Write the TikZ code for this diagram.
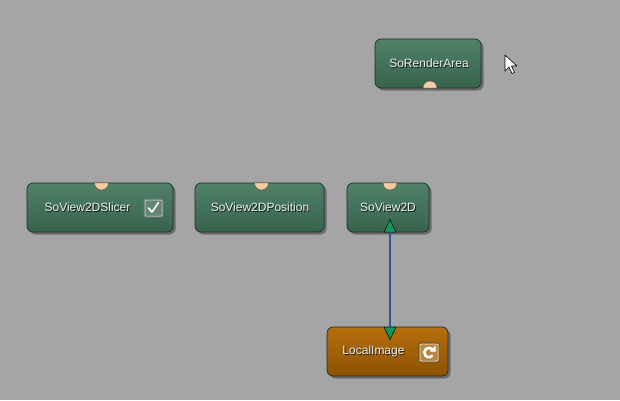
\documentclass[tikz,border=0pt]{standalone}
\usepackage{fontspec}
\setmainfont{Liberation Sans}
\usetikzlibrary{shadows}
\definecolor{bg}{HTML}{A5A5A5}
\definecolor{gtop}{HTML}{4E8268}
\definecolor{gbot}{HTML}{38634D}
\definecolor{otop}{HTML}{B56E0C}
\definecolor{obot}{HTML}{8C5302}
\definecolor{modborder}{HTML}{1F2B25}
\definecolor{portc}{HTML}{F4CDA3}
\definecolor{trig}{HTML}{0E9A5E}
\definecolor{wire}{HTML}{2A5B8E}
\definecolor{txt}{HTML}{EEF3EE}
\definecolor{cbfill}{HTML}{648674}
\definecolor{rffill}{HTML}{B98544}
\tikzset{
  module/.style={draw=modborder, line width=0.7pt, rounded corners=6pt,
    minimum height=49pt, inner sep=0pt,
    drop shadow={shadow xshift=2.5pt, shadow yshift=-2.5pt, opacity=0.35, fill=black}},
  greenmod/.style={module, top color=gtop, bottom color=gbot},
  orangemod/.style={module, top color=otop, bottom color=obot},
  lbl/.style={inner sep=0pt, font=\fontsize{12}{14}\selectfont, text=txt},
  lblshadow/.style={inner sep=0pt, font=\fontsize{12}{14}\selectfont, text=black, opacity=0.8},
  port/.style={fill=portc, draw=black!70, line width=0.4pt},
  trigger/.style={fill=trig, draw=black, line width=0.5pt},
  iconbox/.style={line width=0.7pt, rounded corners=1pt, inner sep=0pt},
}
\newcommand\modlabel[3]{%
  \node[lblshadow] at ([xshift=0.8pt,yshift=-0.8pt]#1) {#3};
  \node[lbl] (#2) at (#1) {#3};}
\begin{document}
\begin{tikzpicture}[x=1pt,y=1pt]
\fill[bg] (0,0) rectangle (620,400);
\useasboundingbox (0,0) rectangle (620,400);

% modules
\node[greenmod, minimum width=106pt] (ra) at (428,336.5) {};
\node[greenmod, minimum width=146pt] (slicer) at (100,192.5) {};
\node[greenmod, minimum width=129pt] (pos) at (259.5,192.5) {};
\node[greenmod, minimum width=82pt] (v2d) at (388,192.5) {};
\node[orangemod, minimum width=121pt] (li) at (387.5,48.5) {};

% labels
\coordinate (ra-c) at (429,336.5);
\coordinate (slicer-c) at (87.5,192.5);
\coordinate (pos-c) at (260,192.5);
\coordinate (v2d-c) at (388,192.5);
\coordinate (li-c) at (373.5,48.5);
\modlabel{ra-c}{ratext}{SoRenderArea}
\modlabel{slicer-c}{slicertext}{SoView2DSlicer}
\modlabel{pos-c}{postext}{SoView2DPosition}
\modlabel{v2d-c}{v2dtext}{SoView2D}
\modlabel{li-c}{litext}{LocalImage}

% ports (semicircles)
\draw[port] (423,312) arc (180:0:7) -- cycle;
\draw[port] (94.5,217) arc (180:360:7) -- cycle;
\draw[port] (254.5,217) arc (180:360:7) -- cycle;
\draw[port] (383,217) arc (180:360:7) -- cycle;

% triggers
\coordinate (v2d-in) at (390,168);
\coordinate (li-out) at (390,73);
\draw[trigger] (384,168) -- (396,168) -- (390,180.5) -- cycle;
\draw[trigger] (384,73) -- (396,73) -- (390,60.5) -- cycle;

% connection
\draw[wire, line width=1.6pt] (v2d-in) -- (li-out);

% checkbox
\node[iconbox, fill=cbfill, minimum width=19pt, minimum height=18pt, draw=black!55] (cb) at (153.5,192) {};
\draw[white!90!black, line width=0.5pt, rounded corners=1pt] ([xshift=-8.5pt,yshift=-8pt]cb.center) rectangle ([xshift=8.5pt,yshift=8pt]cb.center);
\draw[white, line width=1.6pt, line cap=round, line join=round]
  ([xshift=-5pt,yshift=0pt]cb.center) -- ([xshift=-1.5pt,yshift=-4pt]cb.center) -- ([xshift=5pt,yshift=5.5pt]cb.center);

% refresh icon
\node[iconbox, fill=rffill, minimum width=20pt, minimum height=19pt, draw=black!70] (rf) at (429,47.5) {};
\draw[white!85!yellow, line width=0.5pt, rounded corners=1pt] ([xshift=-9pt,yshift=-8.5pt]rf.center) rectangle ([xshift=9pt,yshift=8.5pt]rf.center);
\draw[white, line width=2.6pt] ([xshift=3.6pt,yshift=3pt]rf.center) arc (40:320:4.7pt);
\fill[white] ([xshift=1pt,yshift=1pt]rf.center) -- ([xshift=6.5pt,yshift=7pt]rf.center) -- ([xshift=6.8pt,yshift=1pt]rf.center) -- cycle;

% mouse cursor
\coordinate (cur) at (505,345);
\draw[fill=white, draw=black, line width=0.6pt, line join=round]
  (cur) -- ++(0,-16) -- ++(4,4) -- ++(3,-6.5) -- ++(2.5,1) -- ++(-3,6.5) -- ++(5.5,0) -- cycle;
\end{tikzpicture}
\end{document}
